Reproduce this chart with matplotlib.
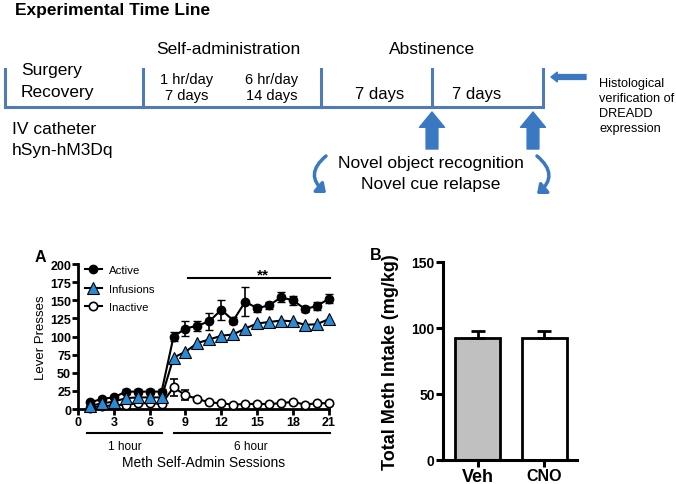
import matplotlib
matplotlib.use('Agg')
import matplotlib.pyplot as plt
from matplotlib.patches import FancyArrowPatch
import matplotlib.transforms as mtransforms

plt.rcParams['font.family'] = ['Liberation Sans', 'DejaVu Sans']

# panel A data
sessions = list(range(1, 22))
active = [9, 14, 16, 24, 24, 24, 24, 100, 111, 115, 121, 137, 122, 148, 139, 143, 154, 150, 138, 142, 152]
active_err = [2, 2, 2, 3, 3, 3, 3, 6, 10, 7, 12, 14, 5, 20, 5, 5, 7, 6, 4, 5, 6]
infusions = [4, 8, 10, 15, 16, 16, 16, 71, 79, 91, 96, 101, 103, 111, 118, 120, 122, 121, 116, 117, 124]
inactive = [2, 4, 5, 6, 8, 8, 7, 30, 19, 14, 9, 8, 6, 7, 7, 7, 8, 10, 6, 8, 8]
inactive_err = [1, 1, 1, 1, 2, 2, 2, 12, 7, 2, 1, 1, 1, 1, 1, 1, 1, 1, 1, 1, 1]

# panel B data
groups = ['Veh', 'CNO']
intake = [92.5, 92.5]
intake_err = [5, 5]

blue_line = '#4f7cb8'
blue_arrow = '#3a78c2'

fig = plt.figure(figsize=(6.76, 4.85), dpi=100)

# timeline drawn in pixel coordinates
ax0 = fig.add_axes([0, 0, 1, 1])
ax0.set_xlim(0, 676)
ax0.set_ylim(485, 0)
ax0.axis('off')

ax0.text(15, 10, 'Experimental Time Line', fontsize=12.5, fontweight='bold', va='center', ha='left')
ax0.plot([5, 543], [108, 108], color=blue_line, lw=2.2, solid_capstyle='butt')
for tx in [5, 143, 321, 432, 543]:
    ax0.plot([tx, tx], [70, 108], color=blue_line, lw=2.2)

ax0.text(228, 50, 'Self-administration', fontsize=12.5, ha='center', va='center')
ax0.text(432, 50, 'Abstinence', fontsize=12.5, ha='center', va='center')
ax0.text(21, 71, 'Surgery', fontsize=12.5, ha='left', va='center')
ax0.text(21, 92, 'Recovery', fontsize=12.5, ha='left', va='center')
ax0.text(187, 80, '1 hr/day', fontsize=10.5, ha='center', va='center')
ax0.text(187, 96, '7 days', fontsize=10.5, ha='center', va='center')
ax0.text(272, 80, '6 hr/day', fontsize=10.5, ha='center', va='center')
ax0.text(272, 96, '14 days', fontsize=10.5, ha='center', va='center')
ax0.text(380, 95, '7 days', fontsize=12, ha='center', va='center')
ax0.text(477, 95, '7 days', fontsize=12, ha='center', va='center')
ax0.text(12, 130, 'IV catheter', fontsize=12.5, ha='left', va='center')
ax0.text(12, 151, 'hSyn-hM3Dq', fontsize=12.5, ha='left', va='center')
ax0.text(431, 164, 'Novel object recognition', fontsize=12.5, ha='center', va='center')
ax0.text(431, 185, 'Novel cue relapse', fontsize=12.5, ha='center', va='center')
for i, line in enumerate(['Histological', 'verification of', 'DREADD', 'expression']):
    ax0.text(599, 84 + 15 * i, line, fontsize=9.2, ha='left', va='center')

for ax_x in [432, 533]:
    ax0.add_patch(FancyArrowPatch((ax_x, 150), (ax_x, 113), mutation_scale=10,
                                  arrowstyle='simple,head_width=1.8,head_length=1.1,tail_width=0.85',
                                  color=blue_arrow, shrinkA=0, shrinkB=0))
ax0.add_patch(FancyArrowPatch((586, 78), (551, 78), mutation_scale=10,
                              arrowstyle='simple,head_width=0.7,head_length=0.45,tail_width=0.35',
                              color=blue_arrow, shrinkA=0, shrinkB=0))
# curved arrows: left one bulges left, right one bulges right
ax0.add_patch(FancyArrowPatch((326, 157), (326, 194), mutation_scale=8,
                              connectionstyle='arc3,rad=0.6', arrowstyle='-|>,head_width=0.5,head_length=0.6',
                              color=blue_arrow, lw=2.5, shrinkA=0, shrinkB=0))
ax0.add_patch(FancyArrowPatch((537, 157), (537, 195), mutation_scale=8,
                              connectionstyle='arc3,rad=-0.6', arrowstyle='-|>,head_width=0.5,head_length=0.6',
                              color=blue_arrow, lw=2.5, shrinkA=0, shrinkB=0))

# panel A
axA = fig.add_axes([0.1154, 0.1546, 0.371, 0.299])
h1 = axA.errorbar(sessions, active, yerr=active_err, color='black', marker='o', ms=6, mfc='black',
                  mec='black', lw=1.5, capsize=3, elinewidth=1.2, label='Active', clip_on=False, zorder=4)
h2, = axA.plot(sessions, infusions, color='black', marker='^', ms=8, mfc='#2b8ad6', mec='black', mew=0.8,
               lw=1.5, label='Infusions', clip_on=False, zorder=5)
h3 = axA.errorbar(sessions, inactive, yerr=inactive_err, color='black', marker='o', ms=6, mfc='white',
                  mec='black', mew=1.2, lw=1.5, capsize=3, elinewidth=1.2, label='Inactive', clip_on=False, zorder=3)
axA.set_xlim(0, 21)
axA.set_ylim(0, 200)
axA.set_xticks(range(0, 22, 3))
axA.set_yticks(range(0, 201, 25))
axA.spines['top'].set_visible(False)
axA.spines['right'].set_visible(False)
for s in ['left', 'bottom']:
    axA.spines[s].set_linewidth(2)
axA.tick_params(width=2, length=4, labelsize=9, pad=1)
for lab in axA.get_xticklabels() + axA.get_yticklabels():
    lab.set_fontweight('bold')
axA.set_ylabel('Lever Presses', fontsize=9.5, labelpad=2)
axA.legend([h1[0], h2, h3[0]], ['Active', 'Infusions', 'Inactive'], loc='upper left',
           bbox_to_anchor=(0.0, 1.04), frameon=False, fontsize=8.2,
           handlelength=1.5, labelspacing=0.75, handletextpad=0.6, borderaxespad=0.2)

axA.plot([9.2, 21.1], [181, 181], color='black', lw=1.5, clip_on=False)
axA.text(15.5, 186, '**', fontsize=11, fontweight='bold', ha='center', va='center')

trans = mtransforms.blended_transform_factory(axA.transData, axA.transAxes)
axA.plot([0.75, 7.03], [-0.166, -0.166], color='black', lw=1.5, transform=trans, clip_on=False)
axA.plot([8.03, 21.1], [-0.166, -0.166], color='black', lw=1.5, transform=trans, clip_on=False)
axA.text(3.9, -0.255, '1 hour', fontsize=8.5, ha='center', va='center', transform=trans)
axA.text(14.5, -0.255, '6 hour', fontsize=8.5, ha='center', va='center', transform=trans)
axA.text(10.5, -0.365, 'Meth Self-Admin Sessions', fontsize=10, ha='center', va='center', transform=trans)
fig.text(40 / 676, 1 - 258 / 485, 'A', fontsize=11.5, fontweight='bold', ha='center', va='center')

# panel B
axB = fig.add_axes([0.6553, 0.050, 0.198, 0.408])
axB.bar([0, 1], intake, width=0.68, color=['#c0c0c0', 'white'], edgecolor='black', linewidth=2,
        yerr=[[0, 0], intake_err], error_kw=dict(ecolor='black', elinewidth=2, capsize=5, capthick=2))
axB.set_xlim(-0.519, 1.489)
axB.set_ylim(0, 150)
axB.set_yticks([0, 50, 100, 150])
axB.set_xticks([0, 1])
axB.set_xticklabels(groups)
axB.spines['top'].set_visible(False)
axB.spines['right'].set_visible(False)
for s in ['left', 'bottom']:
    axB.spines[s].set_linewidth(2.2)
axB.tick_params(width=2.2, length=5, labelsize=10, pad=1)
for lab in axB.get_yticklabels():
    lab.set_fontweight('bold')
xl = axB.get_xticklabels()
xl[0].set_fontsize(13)
xl[0].set_fontweight('bold')
xl[1].set_fontsize(11.5)
xl[1].set_fontweight('bold')
axB.set_ylabel('Total Meth Intake (mg/kg)', fontsize=13, fontweight='bold', labelpad=9)
fig.text(376 / 676, 1 - 255 / 485, 'B', fontsize=11.5, fontweight='bold', ha='center', va='center')

fig.savefig('out.png', dpi=100)
